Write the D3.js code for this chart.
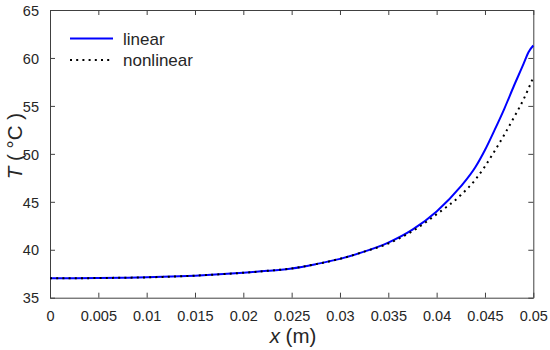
<!DOCTYPE html>
<html>
  <head>
    <title>T vs x</title>
    <style>
      body { margin: 0; background: #fff; }
      text { font-family: "Liberation Sans", Arial, Helvetica, sans-serif; fill: #262626; }
      .axis path, .axis line { stroke: #404040; }
    </style>
    <script src="https://d3js.org/d3.v7.min.js"></script>
  </head>
  <body>
    <div id="chart"></div>
    <script type="text/javascript">
      // data
      var xPos      = [0, 0.0025, 0.005, 0.0075, 0.01, 0.0125, 0.015, 0.0175, 0.02, 0.0225, 0.025, 0.0275, 0.03, 0.0325, 0.035, 0.0375, 0.04, 0.0425, 0.044, 0.045, 0.046, 0.047, 0.048, 0.049, 0.0495, 0.05];
      var linear    = [37.02, 37.03, 37.05, 37.08, 37.12, 37.2, 37.3, 37.44, 37.6, 37.8, 38.05, 38.5, 39.05, 39.8, 40.75, 42.1, 44.0, 46.6, 48.6, 50.4, 52.5, 54.7, 57.1, 59.4, 60.6, 61.3];
      var nonlinear = [37.02, 37.03, 37.05, 37.08, 37.12, 37.2, 37.3, 37.44, 37.6, 37.8, 38.05, 38.5, 39.05, 39.8, 40.65, 41.95, 43.7, 45.7, 47.3, 48.7, 50.3, 52.0, 53.8, 55.7, 56.8, 58.0];
      var xTicks = [0, 0.005, 0.01, 0.015, 0.02, 0.025, 0.03, 0.035, 0.04, 0.045, 0.05];
      var yTicks = [35, 40, 45, 50, 55, 60, 65];
      var seriesNames = ["linear", "nonlinear"];

      var width = 550, height = 350,
          margin = {top: 10, right: 16.7, bottom: 52.3, left: 50};

      var svg = d3.select("#chart").append("svg")
        .attr("width", width)
        .attr("height", height);

      var x = d3.scaleLinear().domain([0, 0.05]).range([margin.left, width - margin.right]);
      var y = d3.scaleLinear().domain([35, 65]).range([height - margin.bottom, margin.top]);

      var fmt = function(d){ return String(d); };

      // bottom & left axes with inward ticks
      svg.append("g").attr("class", "axis")
        .attr("transform", "translate(0," + y(35) + ")")
        .call(d3.axisBottom(x).tickValues(xTicks).tickFormat(fmt).tickSizeInner(-5).tickSizeOuter(0).tickPadding(13));
      var yAxis = svg.append("g").attr("class", "axis")
        .attr("transform", "translate(" + x(0) + ",0)")
        .call(d3.axisLeft(y).tickValues(yTicks).tickFormat(fmt).tickSizeInner(-5).tickSizeOuter(0).tickPadding(11));
      // top & right (box on)
      svg.append("g").attr("class", "axis")
        .attr("transform", "translate(0," + y(65) + ")")
        .call(d3.axisTop(x).tickValues(xTicks).tickFormat("").tickSizeInner(-5).tickSizeOuter(0));
      svg.append("g").attr("class", "axis")
        .attr("transform", "translate(" + x(0.05) + ",0)")
        .call(d3.axisRight(y).tickValues(yTicks).tickFormat("").tickSizeInner(-5).tickSizeOuter(0));

      svg.selectAll(".axis text").style("font-size", "14.5px").style("fill", "#262626");
      yAxis.selectAll("text").attr("dy", "0.36em");

      // axis labels
      var xl = svg.append("text")
        .attr("x", 293).attr("y", 343)
        .attr("text-anchor", "middle")
        .style("font-size", "20.5px");
      xl.append("tspan").style("font-style", "italic").text("x");
      xl.append("tspan").text(" (m)");

      var yl = svg.append("text")
        .attr("transform", "translate(22,146) rotate(-90)")
        .attr("text-anchor", "middle")
        .style("font-size", "20.5px");
      yl.append("tspan").style("font-style", "italic").text("T");
      yl.append("tspan").text(" ( \u00B0C )");

      // curves
      var styles = [
        {name: seriesNames[0], values: linear, color: "#0000ff", dash: null},
        {name: seriesNames[1], values: nonlinear, color: "#000000", dash: "2,4.2"}
      ];
      var line = d3.line()
        .x(function(d){ return x(d[0]); })
        .y(function(d){ return y(d[1]); })
        .curve(d3.curveMonotoneX);

      styles.forEach(function(s){
        svg.append("path")
          .datum(xPos.map(function(v, i){ return [v, s.values[i]]; }))
          .attr("d", line)
          .attr("fill", "none")
          .attr("stroke", s.color)
          .attr("stroke-width", 2)
          .attr("stroke-dasharray", s.dash);
      });

      // legend
      var leg = svg.append("g");
      styles.forEach(function(s, i){
        var ly = 38.5 + i * 21.5;
        leg.append("line")
          .attr("x1", 70).attr("x2", 113)
          .attr("y1", ly).attr("y2", ly)
          .attr("stroke", s.color)
          .attr("stroke-width", 2)
          .attr("stroke-dasharray", s.dash);
        leg.append("text")
          .attr("x", 123).attr("y", ly + 6)
          .style("font-size", "17px")
          .text(s.name);
      });
    </script>
  </body>
</html>
